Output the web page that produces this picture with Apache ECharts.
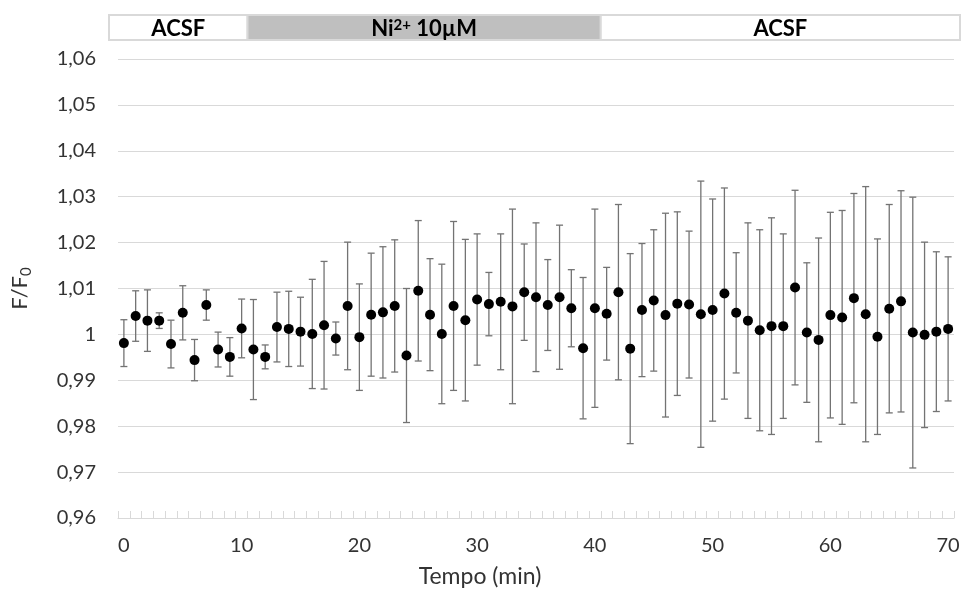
<!DOCTYPE html>
<html><head><meta charset="utf-8">
<script src="https://cdn.jsdelivr.net/npm/echarts@6/dist/echarts.min.js"></script>
<style>html,body{margin:0;padding:0;background:#fff}#c{width:964px;height:593px}</style>
</head><body><div id="c"></div>
<script>
// Time categories (min)
const minutes = ['0','1','2','3','4','5','6','7','8','9','10','11','12','13','14','15','16','17','18','19','20',
  '21','22','23','24','25','26','27','28','29','30','31','32','33','34','35','36','37','38','39','40',
  '41','42','43','44','45','46','47','48','49','50','51','52','53','54','55','56','57','58','59','60',
  '61','62','63','64','65','66','67','68','69','70'];

// Mean F/F0
const meanFF0 = [
  0.9981, 1.0040, 1.0030, 1.0030, 0.9979, 1.0047, 0.9944, 1.0064, 0.9967, 0.9951,
  1.0013, 0.9967, 0.9951, 1.0016, 1.0012, 1.0006, 1.0001, 1.0020, 0.9991, 1.0062,
  0.9994, 1.0043, 1.0048, 1.0062, 0.9954, 1.0095, 1.0043, 1.0001, 1.0062, 1.0031,
  1.0076, 1.0066, 1.0071, 1.0061, 1.0092, 1.0081, 1.0064, 1.0081, 1.0057, 0.9970,
  1.0057, 1.0045, 1.0092, 0.9969, 1.0053, 1.0074, 1.0042, 1.0067, 1.0065, 1.0044,
  1.0053, 1.0089, 1.0047, 1.0030, 1.0009, 1.0018, 1.0018, 1.0102, 1.0004, 0.9988,
  1.0042, 1.0037, 1.0079, 1.0044, 0.9995, 1.0056, 1.0072, 1.0004, 0.9999, 1.0006,
  1.0012];

// Error (half-length of error bar)
const semFF0 = [
  0.0051, 0.0055, 0.0067, 0.0017, 0.0052, 0.0059, 0.0045, 0.0033, 0.0038, 0.0042,
  0.0064, 0.0109, 0.0026, 0.0076, 0.0082, 0.0075, 0.0119, 0.0139, 0.0036, 0.0139,
  0.0116, 0.0134, 0.0143, 0.0144, 0.0146, 0.0153, 0.0122, 0.0152, 0.0184, 0.0176,
  0.0143, 0.0069, 0.0148, 0.0212, 0.0105, 0.0162, 0.0099, 0.0157, 0.0084, 0.0154,
  0.0216, 0.0101, 0.0191, 0.0207, 0.0145, 0.0154, 0.0222, 0.0200, 0.0160, 0.0290,
  0.0242, 0.0230, 0.0131, 0.0213, 0.0219, 0.0236, 0.0201, 0.0212, 0.0152, 0.0222,
  0.0224, 0.0233, 0.0228, 0.0278, 0.0213, 0.0227, 0.0241, 0.0295, 0.0202, 0.0174,
  0.0157];

// Treatment phases: label and last minute of each phase
const phaseLabels = ['ACSF', 'Ni{sup|2+} 10µM', 'ACSF'];
const phaseLastMinute = ['10', '40', '70'];
const phaseFills = ['#ffffff', '#bfbfbf', '#ffffff'];

const FONT = 'Lato, "Open Sans", sans-serif';
const TXT = '#333333';
const chart = echarts.init(document.getElementById('c'), null, {renderer: 'canvas'});

const errData = meanFF0.map((m, i) => [i, m - semFF0[i], m + semFF0[i]]);

chart.setOption({
  animation: false,
  backgroundColor: '#ffffff',
  textStyle: {fontFamily: FONT},
  grid: {left: 118, right: 10, top: 59, bottom: 72, containLabel: false},
  xAxis: {
    type: 'category',
    data: minutes,
    boundaryGap: true,
    name: 'Tempo (min)',
    nameLocation: 'middle',
    nameGap: 47,
    nameTextStyle: {fontFamily: FONT, fontSize: 23, color: TXT, padding: [0, 112, 0, 0]},
    axisLine: {lineStyle: {color: '#d9d9d9', width: 1}},
    axisTick: {show: true, inside: true, interval: 0, length: 7, lineStyle: {color: '#d9d9d9'}},
    axisLabel: {interval: 9, margin: 18, fontFamily: FONT, fontSize: 20, color: TXT},
    splitLine: {show: false}
  },
  yAxis: {
    type: 'value',
    min: 0.96, max: 1.06, interval: 0.01,
    name: '{n|F/F}{s|0}',
    nameLocation: 'middle',
    nameRotate: 90,
    nameGap: 84,
    nameTextStyle: {
      rich: {
        n: {fontFamily: FONT, fontSize: 22, color: TXT, lineHeight: 28, verticalAlign: 'middle'},
        s: {fontFamily: FONT, fontSize: 15, color: TXT, lineHeight: 28, verticalAlign: 'bottom'}
      }
    },
    axisLine: {show: false},
    axisTick: {show: false},
    axisLabel: {
      margin: 22, fontFamily: FONT, fontSize: 20, color: TXT,
      formatter: v => String(parseFloat(v.toFixed(2))).replace('.', ',')
    },
    splitLine: {lineStyle: {color: '#d9d9d9', width: 1}}
  },
  series: [
    {
      type: 'custom',
      name: 'error',
      data: errData,
      encode: {x: 0, y: [1, 2]},
      z: 2,
      renderItem: function (params, api) {
        const x = api.value(0);
        const pLo = api.coord([x, api.value(1)]);
        const pHi = api.coord([x, api.value(2)]);
        const hw = 3.5;
        const st = {stroke: '#737373', lineWidth: 1.3};
        return {
          type: 'group',
          children: [
            {type: 'line', shape: {x1: pHi[0], y1: pHi[1], x2: pLo[0], y2: pLo[1]}, style: st},
            {type: 'line', shape: {x1: pHi[0] - hw, y1: pHi[1], x2: pHi[0] + hw, y2: pHi[1]}, style: st},
            {type: 'line', shape: {x1: pLo[0] - hw, y1: pLo[1], x2: pLo[0] + hw, y2: pLo[1]}, style: st}
          ]
        };
      }
    },
    {
      type: 'scatter',
      name: 'F/F0',
      data: meanFF0,
      symbol: 'circle',
      symbolSize: 10,
      itemStyle: {color: '#000000', opacity: 1},
      z: 3
    }
  ]
});

// Phase boxes above the plot, placed from the x axis
function px(cat) { return chart.convertToPixel({xAxisIndex: 0}, cat); }
const step = px('1') - px('0');
const gridLeft = px('0') - step / 2;
const gridRight = px('70') + step / 2;
const bounds = [gridLeft - 9];
phaseLastMinute.forEach((m, k) => {
  bounds.push(k === phaseLastMinute.length - 1 ? gridRight + 6 : px(m) + step / 2);
});
const boxTop = 15, boxH = 25;
const graphics = [];
phaseLabels.forEach((lab, k) => {
  const x0 = bounds[k], x1 = bounds[k + 1];
  graphics.push({
    type: 'rect',
    shape: {x: x0, y: boxTop, width: x1 - x0, height: boxH},
    style: {fill: phaseFills[k], stroke: '#d9d9d9', lineWidth: 2},
    z: 10
  });
  graphics.push({
    type: 'text',
    x: (x0 + x1) / 2,
    y: boxTop + boxH / 2 + 1,
    style: {
      text: lab,
      align: 'center',
      verticalAlign: 'middle',
      fontFamily: FONT, fontSize: 22, fontWeight: 'bold', fill: '#000',
      rich: {
        sup: {fontFamily: FONT, fontSize: 15, fontWeight: 'bold', fill: '#000', verticalAlign: 'top', lineHeight: 22}
      }
    },
    z: 11
  });
});
chart.setOption({graphic: graphics});
</script>
</body></html>
